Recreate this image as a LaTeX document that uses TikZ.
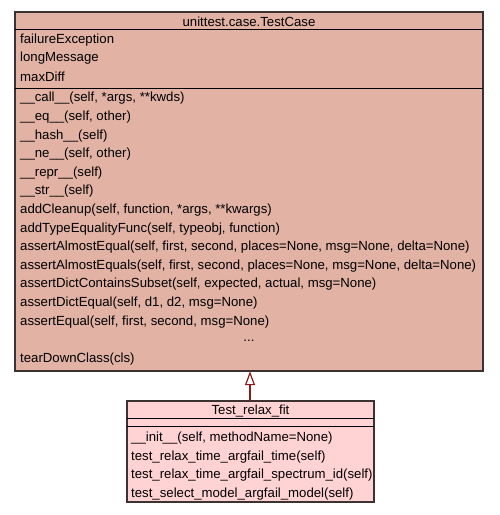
\documentclass[tikz,border=0pt]{standalone}
\usepackage{fontspec}
\setmainfont{Liberation Sans}
\usetikzlibrary{arrows.meta}
\definecolor{topfill}{RGB}{226,178,164}
\definecolor{subfill}{RGB}{255,210,212}
\definecolor{edgecol}{RGB}{60,50,50}
\definecolor{inhcol}{RGB}{139,26,26}
\tikzset{
  x=1pt, y=-1pt,
  box/.style={draw=edgecol, line width=1.2pt},
  divider/.style={draw=black, line width=1pt},
  txt/.style={anchor=west, inner sep=0pt, yshift=-1.5pt, font=\fontsize{13.2}{15}\selectfont},
  ttl/.style={anchor=center, inner sep=0pt, yshift=-1.5pt, font=\fontsize{13.2}{15}\selectfont},
  inherit/.style={draw=inhcol, line width=2pt, -{Triangle[open, fill=white, length=14pt, width=10pt, line width=1.2pt]}},
}
\begin{document}
\begin{tikzpicture}
\useasboundingbox (0,0) rectangle (499,515);
% top class
\path[box, fill=topfill] (15,12) rectangle (483,371);
\node[draw=none, minimum width=468pt, minimum height=359pt, inner sep=0pt] (base) at (249,191.5) {};
\draw[divider] (15,29) -- (483,29);
\draw[divider] (15,88) -- (483,88);
\node[ttl] (bt) at (249,20.5) {unittest.case.TestCase};
\node[txt] (a1) at (20,38.5) {failureException};
\node[txt] (a2) at (20,57) {longMessage};
\node[txt] (a3) at (20,75.5) {maxDiff};
\foreach \t [count=\i from 0] in {
  {\_\_call\_\_(self, *args, **kwds)},
  {\_\_eq\_\_(self, other)},
  {\_\_hash\_\_(self)},
  {\_\_ne\_\_(self, other)},
  {\_\_repr\_\_(self)},
  {\_\_str\_\_(self)},
  {addCleanup(self, function, *args, **kwargs)},
  {addTypeEqualityFunc(self, typeobj, function)},
  {assertAlmostEqual(self, first, second, places=None, msg=None, delta=None)},
  {assertAlmostEquals(self, first, second, places=None, msg=None, delta=None)},
  {assertDictContainsSubset(self, expected, actual, msg=None)},
  {assertDictEqual(self, d1, d2, msg=None)},
  {assertEqual(self, first, second, msg=None)}}
  \node[txt] (m\i) at (20,{97+18.6*\i}) {\t};
\node[ttl] (dots) at (249,339) {...};
\node[txt] (mlast) at (20,357.4) {tearDownClass(cls)};
% sub class
\path[box, fill=subfill] (127,401) rectangle (374,502);
\node[draw=none, minimum width=247pt, minimum height=101pt, inner sep=0pt] (sub) at (250.5,451.5) {};
\draw[divider] (127,418) -- (374,418);
\draw[divider] (127,426) -- (374,426);
\node[ttl] (st) at (250.5,409.5) {Test\_relax\_fit};
\node[txt] (s1) at (131,437) {\_\_init\_\_(self, methodName=None)};
\node[txt] (s2) at (131,455.5) {test\_relax\_time\_argfail\_time(self)};
\node[txt] (s3) at (131,474) {test\_relax\_time\_argfail\_spectrum\_id(self)};
\node[txt] (s4) at (131,492.5) {test\_select\_model\_argfail\_model(self)};
% inheritance
\draw[inherit] (sub.north -| 250,0) -- (base.south -| 250,0);
\end{tikzpicture}
\end{document}
